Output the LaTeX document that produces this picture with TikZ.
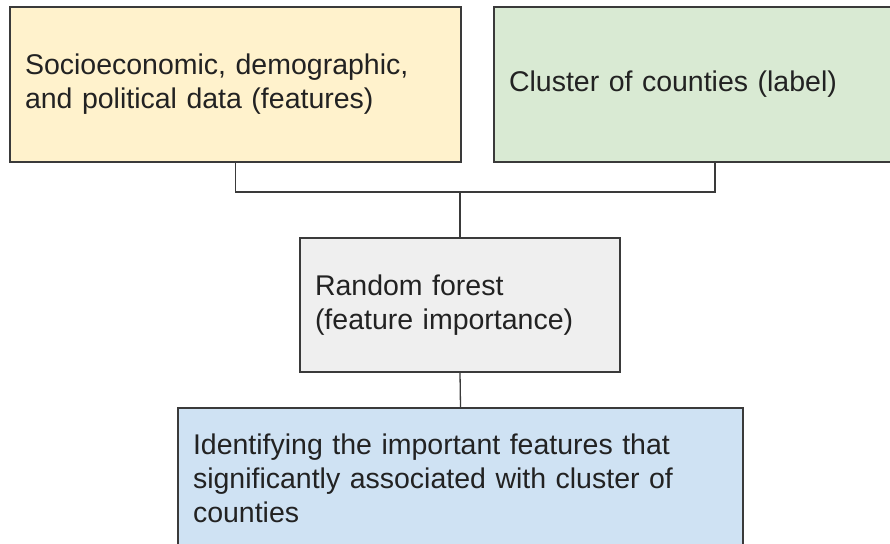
\documentclass[tikz,border=0pt]{standalone}
\usepackage{fontspec}
\setmainfont{Liberation Sans}
\definecolor{boxyellow}{HTML}{FFF2CC}
\definecolor{boxgreen}{HTML}{D9EAD3}
\definecolor{boxgray}{HTML}{EFEFEF}
\definecolor{boxblue}{HTML}{CFE2F3}
\definecolor{edgec}{HTML}{3A3A3A}
\definecolor{textc}{HTML}{222222}
\begin{document}
\begin{tikzpicture}[x=1pt,y=-1pt,
  box/.style={draw=edgec, line width=1.3pt, rectangle, inner xsep=15pt, inner ysep=0pt,
    align=left, text=textc, font=\fontsize{28.5}{34}\selectfont, anchor=center},
  link/.style={draw=edgec, line width=1.3pt}]
\clip (0,0) rectangle (890,543);
\fill[white] (0,0) rectangle (890,543);
\node[box, fill=boxyellow, text width=421pt, minimum height=155pt] (feat) at (235.5,84.5)
  {Socioeconomic, demographic,\\and political data (features)};
\node[box, fill=boxgreen, text width=376pt, minimum height=155pt] (clus) at (697,84.5)
  {Cluster of counties (label)};
\node[box, fill=boxgray, text width=290pt, minimum height=134pt] (rf) at (460,305)
  {Random forest\\(feature importance)};
\node[box, fill=boxblue, text width=535pt, minimum height=140pt] (ident) at (460.5,478)
  {Identifying the important features that\\significantly associated with cluster of\\counties};
\coordinate (j) at (460,192);
\coordinate (gtap) at (715,162);
\draw[link] (feat.south) |- (j) -| (gtap);
\draw[link] (j) -- (rf.north);
\draw[link] (rf.south) -- (ident.north);
\end{tikzpicture}
\end{document}
